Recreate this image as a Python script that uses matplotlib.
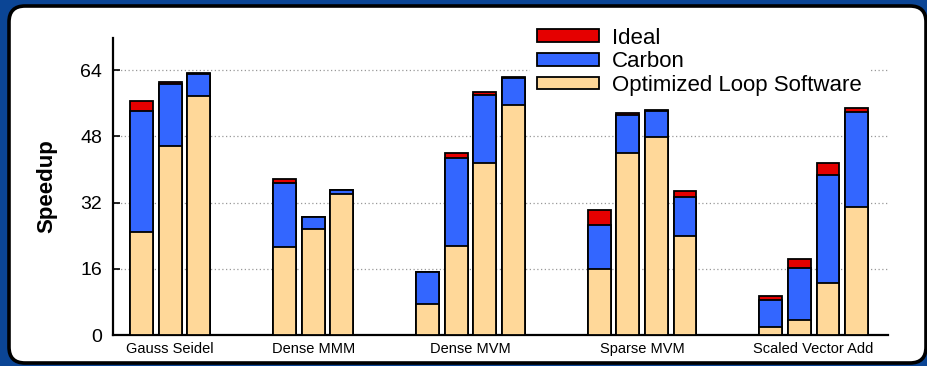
import matplotlib
matplotlib.use("Agg")
import matplotlib.pyplot as plt
import numpy as np
from matplotlib.patches import FancyBboxPatch, Patch
from matplotlib.transforms import IdentityTransform

plt.rcParams["font.family"] = ["Liberation Sans", "DejaVu Sans"]

# Benchmarks and number of bars per group
groups = ["Gauss Seidel", "Dense MMM", "Dense MVM", "Sparse MVM", "Scaled Vector Add"]
group_sizes = [3, 3, 4, 4, 4]

# Bar tops (total speedup), one entry per bar
software = [24.8, 45.7, 57.8,
            21.3, 25.7, 34.2,
            7.4, 21.4, 41.5, 55.6,
            16.0, 44.0, 47.9, 24.0,
            1.9, 3.6, 12.6, 31.0]
carbon = [54.2, 60.7, 63.1,
          36.8, 28.5, 35.0,
          15.2, 42.7, 57.9, 62.1,
          26.7, 53.1, 54.2, 33.3,
          8.4, 16.3, 38.7, 54.0]
ideal = [56.5, 61.2, 63.3,
         37.6, 28.6, 35.1,
         15.3, 43.9, 58.8, 62.3,
         30.1, 53.7, 54.3, 34.7,
         9.4, 18.4, 41.7, 54.8]

yticks = [0, 16, 32, 48, 64]

# bar positions: groups separated by two empty slots
pos = []
centers = []
x = 0
for n in group_sizes:
    pos += list(range(x, x + n))
    centers.append(x + (n - 1) / 2)
    x += n + 2
pos = np.array(pos)

c_ideal = "#e50000"
c_carbon = "#3366ff"
c_soft = "#ffd899"

fig = plt.figure(figsize=(9.28, 3.66), dpi=100)
fig.patch.set_facecolor("#0b4595")

# white rounded panel
panel = FancyBboxPatch((9, 3), 917, 357, boxstyle="round,pad=0,rounding_size=16",
                       facecolor="white", edgecolor="black", linewidth=2.6,
                       transform=IdentityTransform(), zorder=-10)
fig.patches.append(panel)

ax = fig.add_axes([113 / 928, 31 / 366, 775 / 928, 297 / 366])
ax.set_zorder(1)
ax.patch.set_alpha(0)

w = 0.8
kw = dict(width=w, edgecolor="black", linewidth=1.3, zorder=3)
ax.bar(pos, ideal, color=c_ideal, **kw)
ax.bar(pos, carbon, color=c_carbon, **kw)
ax.bar(pos, software, color=c_soft, **kw)

ax.set_xlim(-1.0, 26.1)
ax.set_ylim(0, 71.8)
ax.set_yticks(yticks)
ax.set_yticklabels([str(t) for t in yticks], fontsize=14)
for t in yticks[1:]:
    ax.axhline(t, color="#999999", linestyle=(0, (1, 2)), linewidth=0.9, zorder=1)

ax.set_xticks(centers)
ax.set_xticklabels(groups, fontsize=10.5)
ax.tick_params(axis="x", length=0, pad=5)
ax.tick_params(axis="y", direction="in", length=5, width=1.2, pad=8)

ax.spines["top"].set_visible(False)
ax.spines["right"].set_visible(False)
ax.spines["left"].set_linewidth(1.6)
ax.spines["bottom"].set_linewidth(1.6)

ax.set_ylabel("Speedup", fontsize=16, fontweight="bold", labelpad=16)

handles = [Patch(facecolor=c_ideal, edgecolor="black", linewidth=1.3),
           Patch(facecolor=c_carbon, edgecolor="black", linewidth=1.3),
           Patch(facecolor=c_soft, edgecolor="black", linewidth=1.3)]
leg = fig.legend(handles, ["Ideal", "Carbon", "Optimized Loop Software"],
                 loc="upper left", bbox_to_anchor=(530 / 928, 1 - 21 / 366),
                 fontsize=16, frameon=True, fancybox=False, edgecolor="white",
                 facecolor="white", framealpha=1, handlelength=2.8,
                 handleheight=0.5, handletextpad=0.6, labelspacing=0.12,
                 borderpad=0.3, borderaxespad=0)
leg.set_zorder(5)

fig.savefig("out.png", dpi=100, facecolor=fig.get_facecolor())
